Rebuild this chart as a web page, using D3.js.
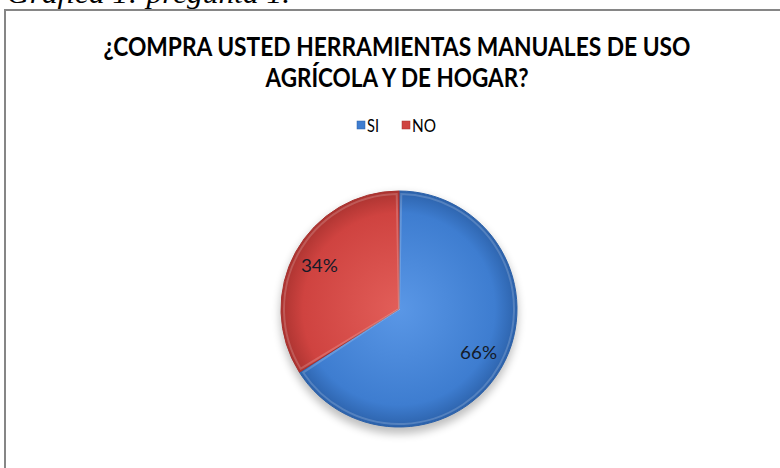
<!DOCTYPE html>
<html>
<head>
<meta charset="utf-8">
<script src="https://cdn.jsdelivr.net/npm/d3@7"></script>
<style>
  body { margin: 0; background: #fff; }
  svg { display: block; }
</style>
</head>
<body>
<svg id="chart" width="780" height="468"></svg>
<script>
// data
var categories = ["SI", "NO"];
var values = [66, 34];
var labels = ["66%", "34%"];
var titleLines = ["¿COMPRA USTED HERRAMIENTAS MANUALES DE USO", "AGRÍCOLA Y DE HOGAR?"];
var caption = "Gráfica 1: pregunta 1.";

var svg = d3.select("#chart");
var width = 780, height = 468;

var base = ["#3e7dd0", "#cf4340"],
    light = ["#5a97e6", "#e25e59"],
    dark = ["#2b60a8", "#a8322f"];

var defs = svg.append("defs");
categories.forEach(function(c, i) {
  var g = defs.append("radialGradient")
    .attr("id", "grad" + i)
    .attr("gradientUnits", "userSpaceOnUse")
    .attr("cx", 0).attr("cy", 0).attr("r", 120);
  g.append("stop").attr("offset", "0%").attr("stop-color", light[i]);
  g.append("stop").attr("offset", "80%").attr("stop-color", base[i]);
  g.append("stop").attr("offset", "100%").attr("stop-color", dark[i]);
});
var blur = defs.append("filter").attr("id", "shadow")
  .attr("x", "-20%").attr("y", "-20%").attr("width", "140%").attr("height", "140%");
blur.append("feGaussianBlur").attr("stdDeviation", 4);

// caption, cut off by the top edge as in the source
svg.append("text")
  .attr("x", 7).attr("y", 3)
  .attr("font-family", "Liberation Serif, DejaVu Serif, serif")
  .attr("font-style", "italic")
  .attr("font-size", 27)
  .attr("textLength", 283)
  .attr("lengthAdjust", "spacingAndGlyphs")
  .attr("fill", "#000")
  .text(caption);

// chart frame
svg.append("path")
  .attr("d", "M5," + height + "V10H" + width)
  .attr("fill", "none")
  .attr("stroke", "#868686")
  .attr("stroke-width", 2);

// title
var titleWidths = [587, 263];
svg.append("g").selectAll("text")
  .data(titleLines)
  .enter().append("text")
  .attr("x", 397)
  .attr("y", (d, i) => 56 + i * 31)
  .attr("text-anchor", "middle")
  .attr("font-family", "Lato, 'Open Sans', sans-serif")
  .attr("font-weight", "bold")
  .attr("font-size", 26)
  .attr("textLength", (d, i) => titleWidths[i])
  .attr("lengthAdjust", "spacingAndGlyphs")
  .attr("fill", "#000")
  .text(d => d);

// legend
var legendX = d3.scaleOrdinal().domain(categories).range([357, 402]);
var legendW = [12, 24];
var legend = svg.append("g").selectAll("g")
  .data(categories)
  .enter().append("g")
  .attr("transform", d => "translate(" + legendX(d) + ",121)");
legend.append("rect")
  .attr("width", 8).attr("height", 8)
  .attr("fill", (d, i) => base[i])
  .attr("stroke", (d, i) => dark[i])
  .attr("stroke-width", 0.5);
legend.append("text")
  .attr("x", 10).attr("y", 11)
  .attr("font-family", "Lato, 'Open Sans', sans-serif")
  .attr("font-size", 17)
  .attr("textLength", (d, i) => legendW[i])
  .attr("lengthAdjust", "spacingAndGlyphs")
  .attr("fill", "#000")
  .text(d => d);

// pie
var cx = 399, cy = 309, r = 118;
var pie = d3.pie().sort(null).startAngle(0).endAngle(2 * Math.PI);
var arcs = pie(values);
var arc = d3.arc().innerRadius(0).outerRadius(r);
var labelArc = d3.arc().innerRadius(r * 0.77).outerRadius(r * 0.77);

var pg = svg.append("g").attr("transform", "translate(" + cx + "," + cy + ")");

pg.append("ellipse")
  .attr("cx", 0).attr("cy", 5)
  .attr("rx", r + 1).attr("ry", r + 2)
  .attr("fill", "#000")
  .attr("opacity", 0.25)
  .attr("filter", "url(#shadow)");

pg.selectAll("path.slice")
  .data(arcs)
  .enter().append("path")
  .attr("class", "slice")
  .attr("d", arc)
  .attr("fill", (d, i) => "url(#grad" + i + ")")
  .attr("stroke", (d, i) => dark[i])
  .attr("stroke-width", 1);

// soft bevel highlight inside each slice
var bevel = d3.arc().innerRadius(0).outerRadius(r - 3);
pg.selectAll("path.bevel")
  .data(arcs)
  .enter().append("path")
  .attr("class", "bevel")
  .attr("d", d => bevel({startAngle: d.startAngle + 0.02, endAngle: d.endAngle - 0.02}))
  .attr("fill", "none")
  .attr("stroke", "#fff")
  .attr("stroke-opacity", 0.18)
  .attr("stroke-width", 2);

pg.selectAll("text.lbl")
  .data(arcs)
  .enter().append("text")
  .attr("class", "lbl")
  .attr("transform", d => "translate(" + labelArc.centroid(d) + ")")
  .attr("dy", "0.35em")
  .attr("text-anchor", "middle")
  .attr("font-family", "Lato, 'Open Sans', sans-serif")
  .attr("font-size", 18)
  .attr("textLength", 37)
  .attr("lengthAdjust", "spacingAndGlyphs")
  .attr("fill", "#141a28")
  .text((d, i) => labels[i]);
</script>
</body>
</html>
